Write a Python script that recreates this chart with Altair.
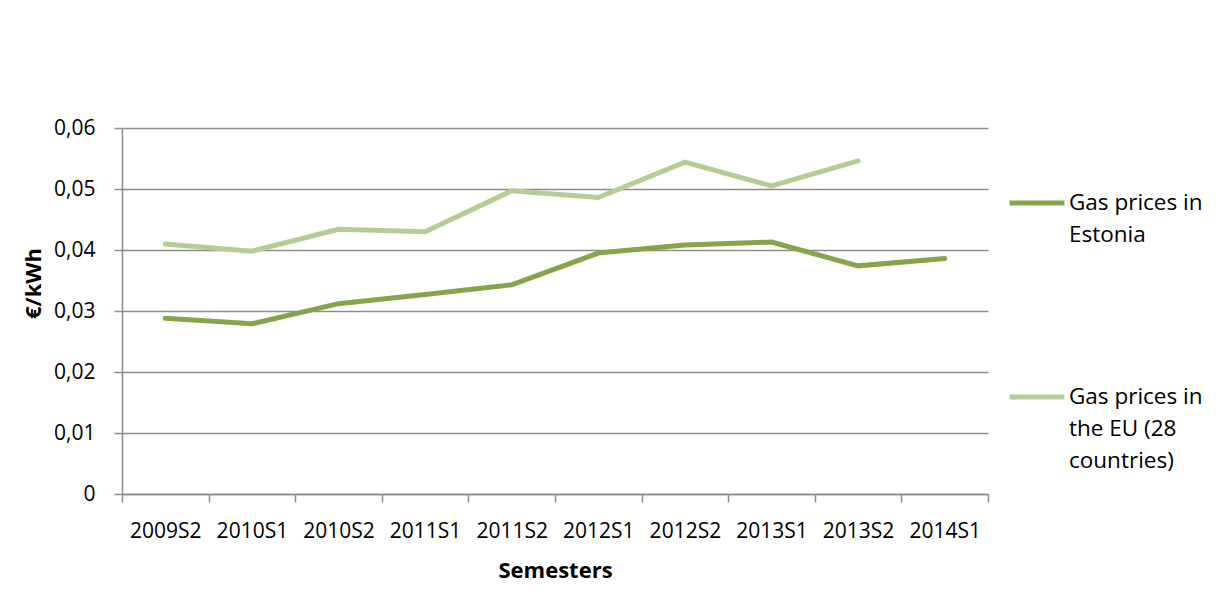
import altair as alt
import pandas as pd

semesters = ["2009S2", "2010S1", "2010S2", "2011S1", "2011S2",
             "2012S1", "2012S2", "2013S1", "2013S2", "2014S1"]
estonia = [0.0288, 0.0279, 0.0312, 0.0327, 0.0343,
           0.0395, 0.0408, 0.0413, 0.0374, 0.0386]
eu = [0.0410, 0.0398, 0.0434, 0.0430, 0.0497,
      0.0486, 0.0544, 0.0505, 0.0546, None]
series_names = ["Gas prices in Estonia", "Gas prices in the EU (28 countries)"]
series_colors = ["#86A54A", "#B5CD95"]
y_ticks = [0, 0.01, 0.02, 0.03, 0.04, 0.05, 0.06]

df = pd.DataFrame({
    "semester": semesters * 2,
    "value": estonia + eu,
    "series": [series_names[0]] * len(semesters) + [series_names[1]] * len(semesters),
}).dropna()

FONT = "Open Sans"
GRID = "#8C8C8C"

legend_expr = ("datum.label == 'Gas prices in Estonia' ? ['Gas prices in', 'Estonia'] : "
               "['Gas prices in', 'the EU (28', 'countries)']")

chart = alt.Chart(df).mark_line(strokeWidth=5, strokeCap="round").encode(
    x=alt.X("semester:N", sort=semesters, bandPosition=0.5,
            scale=alt.Scale(type="band", paddingInner=0, paddingOuter=0),
            axis=alt.Axis(title="Semesters", tickBand="extent", grid=False, labelAngle=0,
                          labelBaseline="alphabetic", labelPadding=35,
                          titleY=83, titleBaseline="alphabetic")),
    y=alt.Y("value:Q", scale=alt.Scale(domain=[0, 0.06], nice=False),
            axis=alt.Axis(title="€/kWh", values=y_ticks,
                          labelExpr="datum.value == 0 ? '0' : replace(format(datum.value, '.2f'), '.', ',')",
                          labelPadding=19, titleX=-89, titleY=155, titleAngle=-90,
                          titleAlign="center", titleBaseline="middle")),
    color=alt.Color("series:N", scale=alt.Scale(domain=series_names, range=series_colors),
                    legend=alt.Legend(title=None, orient="none", legendX=885, legendY=45,
                                      symbolType="stroke", symbolSize=3025, symbolStrokeWidth=5,
                                      labelFontSize=22.5, labelFont=FONT, labelColor="black",
                                      labelExpr=legend_expr, rowPadding=120, labelOffset=2,
                                      labelLimit=300)),
).properties(
    width=866, height=366,
    autosize=alt.AutoSizeParams(type="none"),
    padding={"left": 114, "top": 120, "right": 230, "bottom": 100},
).configure(
    style={"guide-label": {"lineHeight": 32}}
).configure_view(stroke=None).configure_axis(
    labelFont=FONT, labelFontSize=21, labelColor="black",
    titleFont=FONT, titleFontSize=22, titleFontWeight="bold", titleColor="black",
    domainColor=GRID, domainWidth=1.5, tickColor=GRID, tickWidth=1.5, tickSize=8,
    gridColor=GRID, gridWidth=1.5,
)

chart.save("out.html", embed_options={"renderer": "svg", "actions": False})
